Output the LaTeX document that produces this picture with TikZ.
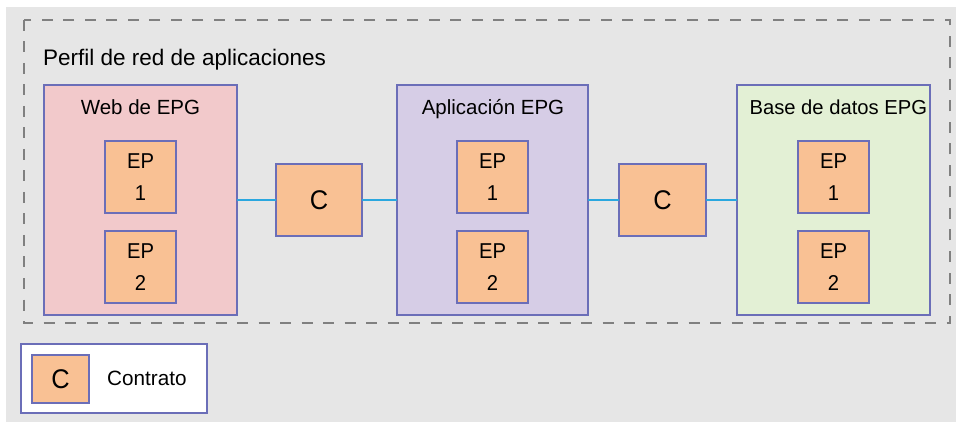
\documentclass[tikz,border=0pt]{standalone}
\usepackage{fontspec}
\setmainfont{Liberation Sans}
\newfontfamily\tallsans[FakeStretch=0.94]{Liberation Sans}
\definecolor{pageGrey}{HTML}{E6E6E6}
\definecolor{dashGrey}{HTML}{808080}
\definecolor{edgeBlue}{HTML}{6B6EB8}
\definecolor{webFill}{HTML}{F2C9CB}
\definecolor{appFill}{HTML}{D6CDE6}
\definecolor{dbFill}{HTML}{E3F0D5}
\definecolor{epFill}{HTML}{F9C194}
\definecolor{linkBlue}{HTML}{2AA7DF}
\tikzset{
  box/.style={draw=edgeBlue, line width=1.4pt, rectangle, inner sep=0pt, outer sep=0pt},
  group/.style={box, minimum width=193pt, minimum height=230pt},
  epbox/.style={box, fill=epFill, minimum width=71pt, minimum height=72pt,
    align=center, font=\tallsans\fontsize{21.5}{31.4}\selectfont},
  contract/.style={box, fill=epFill, minimum width=86pt, minimum height=72pt,
    font=\tallsans\fontsize{27}{30}\selectfont},
  grouptitle/.style={anchor=base, inner sep=0pt, font=\fontsize{20.5}{24}\selectfont},
  link/.style={draw=linkBlue, line width=2.6pt},
}
\begin{document}
\begin{tikzpicture}[x=1pt, y=-1pt]
  \useasboundingbox (0,0) rectangle (956,422);
  % page background
  \fill[pageGrey] (6,7) rectangle (956,422);
  % application profile frame
  \draw[dashGrey, line width=2pt, dash pattern=on 11pt off 10.5pt] (24,20) rectangle (950,323);
  \node[anchor=base west, inner sep=0pt, font=\fontsize{22.5}{26}\selectfont] (profile) at (43,65.5) {Perfil de red de aplicaciones};

  % endpoint groups
  \node[group, fill=webFill] (web) at (140.5,200) {};
  \node[group, fill=appFill, minimum width=191pt] (app) at (492.5,200) {};
  \node[group, fill=dbFill] (db) at (833.5,200) {};
  \node[grouptitle] (webT) at (140.5,115) {Web de EPG};
  \node[grouptitle] (appT) at (493,115) {Aplicación EPG};
  \node[grouptitle, font=\fontsize{20.2}{24}\selectfont] (dbT) at (838.3,114.5) {Base de datos EPG};

  % endpoints
  \node[epbox] (web1) at (140.5,177) {EP\\1};
  \node[epbox] (web2) at (140.5,267) {EP\\2};
  \node[epbox] (app1) at (492.5,177) {EP\\1};
  \node[epbox] (app2) at (492.5,267) {EP\\2};
  \node[epbox] (db1) at (833.5,177) {EP\\1};
  \node[epbox] (db2) at (833.5,267) {EP\\2};

  % contracts
  \node[contract] (c1) at (319,200) {C};
  \node[contract, minimum width=87pt] (c2) at (662.5,200) {C};
  \draw[link] (web.east) -- (c1.west);
  \draw[link] (c1.east) -- (app.west);
  \draw[link] (app.east) -- (c2.west);
  \draw[link] (c2.east) -- (db.west);

  % legend
  \node[box, fill=white, minimum width=186pt, minimum height=69pt] (legend) at (114,378.5) {};
  \node[contract, minimum width=57pt, minimum height=48pt] (legC) at (60.5,379) {C};
  \node[anchor=west, inner sep=0pt, font=\fontsize{20.7}{24}\selectfont] (legT) at (107,378) {Contrato};
\end{tikzpicture}
\end{document}
